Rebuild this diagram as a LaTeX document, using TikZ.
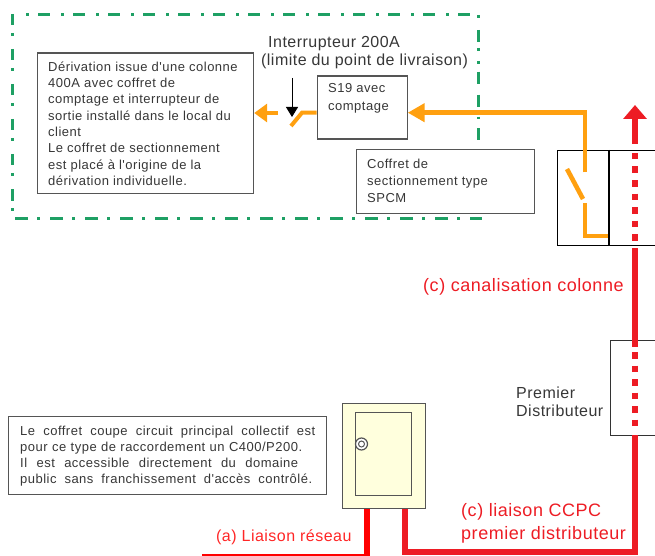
\documentclass[tikz,border=0pt]{standalone}
\usepackage{fontspec}
\setmainfont{Liberation Sans}
\definecolor{grn}{RGB}{30,160,100}
\definecolor{org}{RGB}{255,160,16}
\definecolor{redc}{RGB}{237,28,36}
\definecolor{redA}{RGB}{255,0,0}
\definecolor{txt}{RGB}{55,55,55}
\definecolor{boxc}{RGB}{85,85,85}
\definecolor{cream}{RGB}{255,255,221}
\usetikzlibrary{arrows.meta,calc}
\newfontface\bodyface[LetterSpace=3.8]{Liberation Sans}
\newfontface\labface[LetterSpace=3]{Liberation Sans}
\tikzset{
 x=1pt,y=-1pt,
 greenln/.style={draw=grn,line width=3pt},
 infobox/.style={draw=boxc,line width=1.2pt,rectangle,inner sep=0pt,anchor=north west,fill=white},
 body/.style={text=txt,font=\bodyface\fontsize{13}{16.3}\selectfont,align=left,inner sep=0pt,anchor=north west},
 label/.style={text=txt,font=\labface\fontsize{16}{18}\selectfont,inner sep=0pt},
 redlabel/.style={text=redc,font=\labface\fontsize{18}{23}\selectfont,align=left,inner sep=0pt},
 orangeln/.style={draw=org,line width=4.6pt,line cap=butt,line join=miter},
 redln/.style={draw=redc,line width=6.5pt,line join=miter},
 reddots/.style={draw=redc,line width=6.5pt,dash pattern=on 6.5pt off 7pt},
 cabinet/.style={draw=black,line width=1.2pt,rectangle,inner sep=0pt,anchor=north west},
}
\newcommand{\jl}[2]{\makebox[#1pt][s]{#2}}
\begin{document}
\begin{tikzpicture}
\useasboundingbox (0,0) rectangle (655,556);
% green dash-dot outline
\draw[greenln,dash pattern=on 12pt off 11pt on 2.6pt off 9.4pt,dash phase=14pt] (17,15) -- (478,15);
\draw[greenln,dash pattern=on 11.5pt off 7.5pt on 2.6pt off 13.4pt] (12,14) -- (12,212);
\draw[greenln,dash pattern=on 13pt off 9pt on 2.6pt off 10.4pt] (15,218) -- (482,218);
\draw[greenln] (478,15) -- (478,18);
\draw[greenln,dash pattern=on 12pt off 6pt on 2.6pt off 10.4pt on 2.6pt off 8pt on 12pt off 11pt on 12pt off 10pt on 2.6pt off 9pt on 12pt off 100pt] (478,30) -- (478,143);
% left text box
\node[infobox,minimum width=216.5pt,minimum height=140.5pt] (deriv) at (36.5,52.5) {};
\node[body] (derivtxt) at (48,61.5) {Dérivation issue d'une colonne\\400A avec coffret de\\comptage et interrupteur  de\\sortie installé dans le local du\\client\\Le coffret de sectionnement\\est placé à l'origine de la\\dérivation individuelle.};
% S19
\node[infobox,minimum width=90pt,minimum height=63pt] (s19) at (316.5,75.5) {};
\node[body,font=\bodyface\fontsize{13}{17.5}\selectfont] (s19txt) at (328,83.5) {S19 avec\\comptage};
% SPCM
\node[infobox,minimum width=178pt,minimum height=64pt] (spcm) at (356,149) {};
\node[body,font=\bodyface\fontsize{13}{17}\selectfont] (spcmtxt) at (367,158.5) {Coffret de\\sectionnement type\\SPCM};
% interrupteur label
\node[label,anchor=base west] (inter) at (268,48) {Interrupteur 200A};
\node[label,anchor=base] (limite) at (364.5,66) {(limite du point de livraison)};
% upper cabinet
\node[cabinet,minimum width=100pt,minimum height=95pt] (cab) at (557,150) {};
\coordinate (divtop) at (609,150);
\coordinate (divbot) at (609,245);
% orange line to S19
\coordinate (oa) at (585,172.5);
\coordinate (ob) at (585,112.7);
\draw[orangeln,-{Triangle[length=17pt,width=18pt]}] (oa) -- (ob) -- (s19.east |- ob);
\coordinate (oc) at (585,203);
\coordinate (od) at (585,236);
\draw[orangeln] (oc) -- (od) -- (divbot |- od);
\coordinate (bl1) at (567,169);
\coordinate (bl2) at (583,199);
\draw[orangeln] (bl1) -- (bl2);
\draw[black,line width=1.2pt] (divtop) -- (divbot);
% small switch
\coordinate (sw1) at (291,126);
\coordinate (sw2) at (302,112.7);
\draw[orangeln,line width=4pt] (sw1) -- (sw2) -- (s19.west |- sw2);
\coordinate (ar1) at (278,113);
\draw[orangeln,-{Triangle[length=13pt,width=18pt]}] (ar1) -- (deriv.east |- ar1);
\coordinate (ba1) at (292,78);
\coordinate (ba2) at (292,117);
\draw[black,line width=0.9pt,-{Triangle[length=10pt,width=12pt]}] (ba1) -- (ba2);
% red colonne
\coordinate (rt) at (635,105);
\coordinate (r1) at (635,144);
\coordinate (r2) at (635,153);
\coordinate (r3) at (635,241);
\coordinate (r4) at (635,248);
\coordinate (r5) at (635,347);
\coordinate (r6) at (635,352);
\coordinate (r7) at (635,430);
\coordinate (r8) at (635,435);
\coordinate (rb) at (635,552);
\coordinate (rc) at (405,552);
\draw[redln,-{Triangle[length=14pt,width=23pt]}] (r1) -- (rt);
\draw[reddots] (r2) -- (r3);
% premier distributeur
\node[cabinet,draw=black!80,minimum width=50pt,minimum height=95pt] (dist) at (609.5,340) {};
\draw[redln] (r4) -- (r5);
\draw[reddots] (r6) -- (r7);
% coffret CCPC
\node[cabinet,draw=boxc,fill=cream,minimum width=83pt,minimum height=105pt] (ccpc) at (342,403) {};
\node[cabinet,draw=boxc,line width=1.4pt,minimum width=56pt,minimum height=83pt] (door) at (355,412) {};
\node[circle,draw=boxc,line width=1.2pt,fill=white,minimum size=12pt,inner sep=0pt] (knob) at (361.5,444) {};
\node[circle,draw=boxc,line width=1pt,minimum size=6pt,inner sep=0pt] (knobin) at (knob) {};
\draw[redln] (r8) -- (rb) -- (rc) -- (rc |- ccpc.south);
\coordinate (la) at (367,555);
\coordinate (lb) at (202,555);
\draw[draw=redA,line width=6.5pt] (la |- ccpc.south) -- (367,556);
\draw[draw=redA,line width=1.5pt] (lb) -- (la);
% bottom-left text box
\node[infobox,minimum width=318pt,minimum height=78pt] (princ) at (8,416) {};
\node[body,font=\bodyface\fontsize{13}{16}\selectfont] (princtxt) at (20,426) {\jl{295}{Le coffret coupe circuit principal collectif est}\\\jl{282}{pour ce type de raccordement un C400/P200.}\\\jl{278}{Il est accessible directement du domaine}\\\jl{292}{public sans franchissement d'accès contrôlé.}};
% labels
\node[redlabel,anchor=base west] (canal) at (423,291) {(c) canalisation colonne};
\node[redlabel,anchor=north west] (liais) at (461,503) {(c) liaison CCPC\\premier distributeur};
\node[redlabel,text=redA!85!white,font=\labface\fontsize{16}{18}\selectfont,anchor=base west] (resau) at (216,541) {(a) Liaison réseau};
\node[label,align=left,anchor=north west] (ptxt) at (516,387) {Premier\\Distributeur};
\end{tikzpicture}
\end{document}
